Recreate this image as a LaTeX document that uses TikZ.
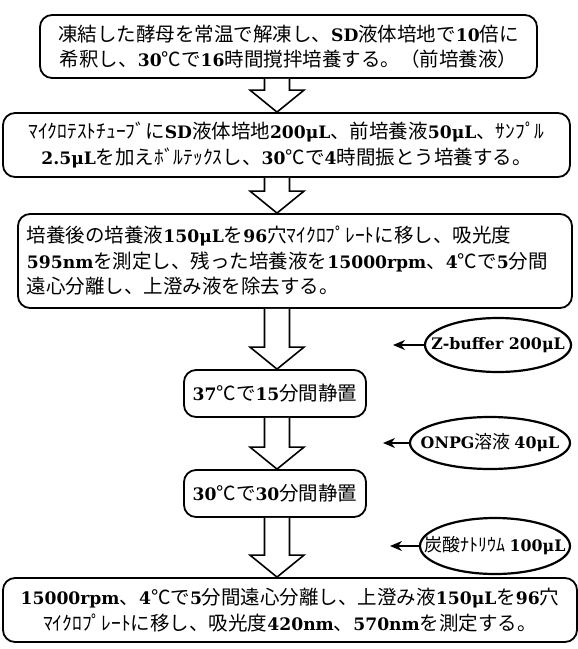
\documentclass[tikz,border=0pt]{standalone}
\usepackage{fontspec}
\setmainfont{Noto Sans CJK JP}
\newfontfamily\latf{DejaVu Serif}[Scale=0.88,BoldFont={DejaVu Serif Bold}]
\newcommand\E[1]{{\latf\bfseries #1}}
\usetikzlibrary{arrows.meta,calc,shapes.geometric}
\tikzset{
  stepbox/.style={draw,line width=1.8pt,rounded corners=12pt,inner sep=0pt,font=\fontsize{19.5}{25.5}\selectfont},
  elltext/.style={inner sep=0pt,font=\fontsize{18}{20}\selectfont},
  bigarr/.style={draw,line width=1.6pt,fill=white,line join=miter},
  ptr/.style={line width=2pt,-{Stealth[length=12pt,width=10pt,fill=gray!60]}}
}
\newcommand\bigarrow[3]{% from node, to node, x coordinate name
  \path (#1.south -| #3) coordinate (t1) (#2.north -| #3) coordinate (t2);
  \draw[bigarr] ($(t1)+(-12.5,0)$) -- ($(t2)+(-12.5,-22)$) -- ($(t2)+(-27,-22)$) -- (t2)
     -- ($(t2)+(27,-22)$) -- ($(t2)+(12.5,-22)$) -- ($(t1)+(12.5,0)$);
}
\newcommand\reagentell[3]{% node name, x radius, y radius (pt)
  \pgfsetlinewidth{2.2pt}%
  \pgfpathellipse{\pgfpointanchor{#1}{center}}{\pgfpoint{#2}{0pt}}{\pgfpoint{0pt}{#3}}%
  \pgfusepath{draw}%
}
\begin{document}
\begin{tikzpicture}[x=1pt,y=-1pt]
\useasboundingbox (0,0) rectangle (578,649);
\coordinate (ax) at (277,0);
\node[stepbox,minimum width=497pt,minimum height=63pt,align=center] (b1) at (288.5,46.5)
  {凍結した酵母を常温で解凍し、\E{SD}液体培地で\E{10}倍に\\希釈し、\E{30}℃で\E{16}時間撹拌培養する。（前培養液）};
\node[stepbox,minimum width=567pt,minimum height=64pt,align=center] (b2) at (286.5,145)
  {ﾏｲｸﾛﾃｽﾄﾁｭｰﾌﾞに\E{SD}液体培地\E{200μL}、前培養液\E{50μL}、ｻﾝﾌﾟﾙ\\\E{2.5μL}を加えﾎﾞﾙﾃｯｸｽし、\E{30}℃で\E{4}時間振とう培養する。};
\node[stepbox,minimum width=554pt,minimum height=94pt,align=left,text width=536pt] (b3) at (295,261)
  {培養後の培養液\E{150μL}を\E{96}穴ﾏｲｸﾛﾌﾟﾚｰﾄに移し、吸光度\\\E{595nm}を測定し、残った培養液を\E{15000rpm}、\E{4}℃で\E{5}分間\\遠心分離し、上澄み液を除去する。};
\node[stepbox,minimum width=182pt,minimum height=47pt] (b4) at (275,393.5) {\E{37}℃で\E{15}分間静置};
\node[stepbox,minimum width=182pt,minimum height=47pt] (b5) at (275,493.5) {\E{30}℃で\E{30}分間静置};
\node[stepbox,minimum width=574pt,minimum height=64pt,align=center] (b6) at (290,610)
  {\E{15000rpm}、\E{4}℃で\E{5}分間遠心分離し、上澄み液\E{150μL}を\E{96}穴\\ﾏｲｸﾛﾌﾟﾚｰﾄに移し、吸光度\E{420nm}、\E{570nm}を測定する。};
% reagent ellipses
\node[elltext] (z) at (498,345) {\E{Z-buffer 200μL}};
\reagentell{z}{73pt}{27pt}
\coordinate (zw) at ($(z.center)+(-73,0)$);
\node[elltext] (o) at (490,443) {\E{ONPG}溶液 \E{40μL}};
\reagentell{o}{80pt}{26pt}
\coordinate (ow) at ($(o.center)+(-80,0)$);
\node[elltext] (n) at (495,546) {炭酸ﾅﾄﾘｳﾑ \E{100μL}};
\reagentell{n}{75pt}{28pt}
\coordinate (nw) at ($(n.center)+(-75,0)$);
\bigarrow{b1}{b2}{ax}
\bigarrow{b2}{b3}{ax}
\bigarrow{b3}{b4}{ax}
\bigarrow{b4}{b5}{ax}
\bigarrow{b5}{b6}{ax}
\coordinate (pz) at (393,345);
\coordinate (po) at (383,443);
\coordinate (pn) at (390,546);
\draw[ptr] (zw) -- (pz);
\draw[ptr] (ow) -- (po);
\draw[ptr] (nw) -- (pn);
\end{tikzpicture}
\end{document}
